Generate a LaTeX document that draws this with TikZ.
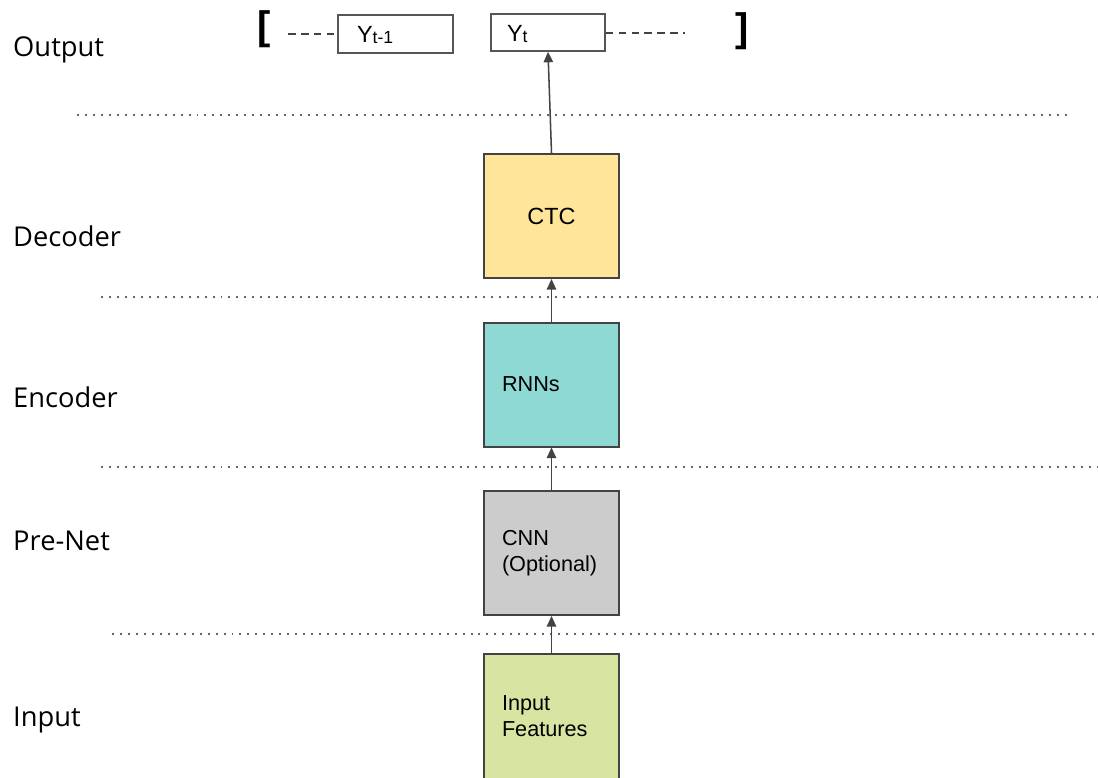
\documentclass[tikz,border=0pt]{standalone}
\usepackage{fontspec}
\setmainfont{Liberation Sans}
\newfontfamily\labelfont{Open Sans}
\usetikzlibrary{arrows.meta}
\definecolor{boxline}{HTML}{434343}
\definecolor{ctcyellow}{HTML}{FFE599}
\definecolor{rnnteal}{HTML}{8ED9D4}
\definecolor{cnngray}{HTML}{CCCCCC}
\definecolor{featgreen}{HTML}{D8E5A2}
\definecolor{dotgray}{HTML}{666666}

\begin{document}
\begin{tikzpicture}[x=0.03cm,y=-0.03cm,
  layer/.style={anchor=base west,inner sep=0pt,font=\labelfont\fontsize{23.3}{27}\selectfont},
  block/.style={draw=boxline,line width=1.7pt,minimum height=3.72cm,text width=2.97cm,
    inner xsep=0.54cm,align=left,font=\fontsize{18.5}{22}\selectfont},
  outbox/.style={draw=boxline!90,line width=1.3pt,align=left,text height=16pt,font=\fontsize{20}{24}\selectfont},
  brack/.style={inner sep=0pt,font=\bfseries\fontsize{34}{38}\selectfont},
  sep/.style={draw=dotgray,line width=1.7pt,dash pattern=on 1.7pt off 5.1pt},
  arr/.style={draw=boxline,line width=1.3pt,-{Triangle[length=9pt,width=8pt]}},
  dashy/.style={draw=boxline,line width=1.3pt,dash pattern=on 6.5pt off 4.5pt}]
\useasboundingbox (0,0) rectangle (1098,777);
\clip (0,0) rectangle (1098,777);

% layer names
\node[layer] (lout) at (13,56) {Output};
\node[layer] (ldec) at (13,246) {Decoder};
\node[layer] (lenc) at (13,407) {Encoder};
\node[layer] (lpre) at (13,550) {Pre-Net};
\node[layer] (linp) at (13,726) {Input};

% separators
\draw[sep] (77,115) -- (1072,115);
\draw[sep] (101,297) -- (1097,297);
\draw[sep] (101,467) -- (1097,467);
\draw[sep] (112,634) -- (1097,634);

% output sequence
\node[brack] (lb) at (264,29) {[};
\node[brack] (rb) at (742,31) {]};
\node[outbox,minimum height=1.14cm,text width=2.31cm,inner xsep=0.57cm] (yprev) at (395.5,34)
  {Y\raisebox{-0.05em}{\fontsize{15}{18}\selectfont t-1}};
\node[outbox,minimum height=1.11cm,text width=2.46cm,inner xsep=0.48cm] (yt) at (548,32.5)
  {Y\raisebox{-0.05em}{\fontsize{15}{18}\selectfont t}};
\coordinate (dl) at (288,34);
\coordinate (dr) at (685,33);
\draw[dashy] (dl) -- (yprev.west);
\draw[dashy] (yt.east |- dr) -- (dr);

% blocks
\node[block,fill=ctcyellow,align=center,font=\fontsize{20}{24}\selectfont] (ctc) at (551.5,216) {CTC};
\node[block,fill=rnnteal] (rnn) at (551.5,384.5) {RNNs};
\node[block,fill=cnngray] (cnn) at (551.5,553) {CNN\\(Optional)};
\node[block,fill=featgreen,minimum height=3.75cm] (feat) at (551.5,716.5) {Input\\Features};

\draw[arr] (feat.north) -- (cnn.south);
\draw[arr] (cnn.north) -- (rnn.south);
\draw[arr] (rnn.north) -- (ctc.south);
\draw[arr] (ctc.north) -- (yt.south);
\end{tikzpicture}
\end{document}
